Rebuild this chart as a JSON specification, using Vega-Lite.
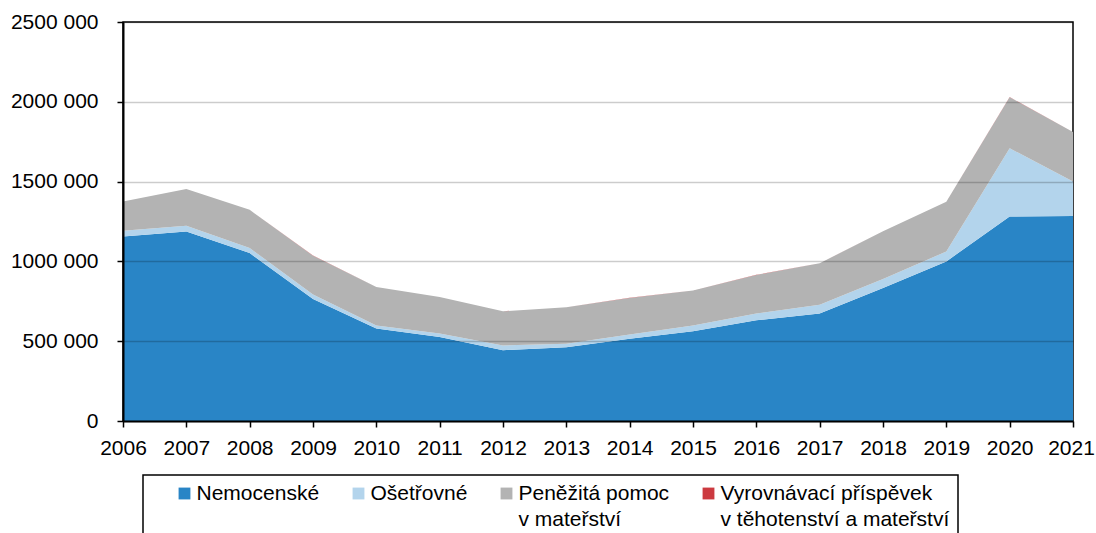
{
  "$schema": "https://vega.github.io/schema/vega-lite/v6.json",
  "autosize": "none",
  "width": 950,
  "height": 399,
  "padding": {"left": 123, "top": 22, "right": 23, "bottom": 112},
  "background": "white",
  "config": {
    "font": "Liberation Sans",
    "view": {"stroke": "black", "strokeWidth": 1.5},
    "axis": {
      "labelFont": "Liberation Sans",
      "labelFontSize": 21,
      "labelColor": "black",
      "tickColor": "black",
      "tickWidth": 1.5,
      "tickSize": 6,
      "domainColor": "black",
      "domainWidth": 2,
      "labelFlush": false,
      "labelOverlap": false,
      "title": null
    }
  },
  "data": {
    "values": [
      {"rok": 2006, "druh": "Nemocenské", "poradi": 1, "hodnota": 1156000},
      {"rok": 2006, "druh": "Ošetřovné", "poradi": 2, "hodnota": 36000},
      {"rok": 2006, "druh": "Peněžitá pomoc v mateřství", "poradi": 3, "hodnota": 183000},
      {"rok": 2006, "druh": "Vyrovnávací příspěvek v těhotenství a mateřství", "poradi": 4, "hodnota": 300},
      {"rok": 2007, "druh": "Nemocenské", "poradi": 1, "hodnota": 1187000},
      {"rok": 2007, "druh": "Ošetřovné", "poradi": 2, "hodnota": 36000},
      {"rok": 2007, "druh": "Peněžitá pomoc v mateřství", "poradi": 3, "hodnota": 231000},
      {"rok": 2007, "druh": "Vyrovnávací příspěvek v těhotenství a mateřství", "poradi": 4, "hodnota": 300},
      {"rok": 2008, "druh": "Nemocenské", "poradi": 1, "hodnota": 1052000},
      {"rok": 2008, "druh": "Ošetřovné", "poradi": 2, "hodnota": 32000},
      {"rok": 2008, "druh": "Peněžitá pomoc v mateřství", "poradi": 3, "hodnota": 239000},
      {"rok": 2008, "druh": "Vyrovnávací příspěvek v těhotenství a mateřství", "poradi": 4, "hodnota": 300},
      {"rok": 2009, "druh": "Nemocenské", "poradi": 1, "hodnota": 765000},
      {"rok": 2009, "druh": "Ošetřovné", "poradi": 2, "hodnota": 27000},
      {"rok": 2009, "druh": "Peněžitá pomoc v mateřství", "poradi": 3, "hodnota": 244000},
      {"rok": 2009, "druh": "Vyrovnávací příspěvek v těhotenství a mateřství", "poradi": 4, "hodnota": 300},
      {"rok": 2010, "druh": "Nemocenské", "poradi": 1, "hodnota": 579000},
      {"rok": 2010, "druh": "Ošetřovné", "poradi": 2, "hodnota": 19000},
      {"rok": 2010, "druh": "Peněžitá pomoc v mateřství", "poradi": 3, "hodnota": 242000},
      {"rok": 2010, "druh": "Vyrovnávací příspěvek v těhotenství a mateřství", "poradi": 4, "hodnota": 300},
      {"rok": 2011, "druh": "Nemocenské", "poradi": 1, "hodnota": 527000},
      {"rok": 2011, "druh": "Ošetřovné", "poradi": 2, "hodnota": 21000},
      {"rok": 2011, "druh": "Peněžitá pomoc v mateřství", "poradi": 3, "hodnota": 229000},
      {"rok": 2011, "druh": "Vyrovnávací příspěvek v těhotenství a mateřství", "poradi": 4, "hodnota": 300},
      {"rok": 2012, "druh": "Nemocenské", "poradi": 1, "hodnota": 444000},
      {"rok": 2012, "druh": "Ošetřovné", "poradi": 2, "hodnota": 29000},
      {"rok": 2012, "druh": "Peněžitá pomoc v mateřství", "poradi": 3, "hodnota": 214000},
      {"rok": 2012, "druh": "Vyrovnávací příspěvek v těhotenství a mateřství", "poradi": 4, "hodnota": 300},
      {"rok": 2013, "druh": "Nemocenské", "poradi": 1, "hodnota": 462000},
      {"rok": 2013, "druh": "Ošetřovné", "poradi": 2, "hodnota": 22000},
      {"rok": 2013, "druh": "Peněžitá pomoc v mateřství", "poradi": 3, "hodnota": 228000},
      {"rok": 2013, "druh": "Vyrovnávací příspěvek v těhotenství a mateřství", "poradi": 4, "hodnota": 1000},
      {"rok": 2014, "druh": "Nemocenské", "poradi": 1, "hodnota": 515000},
      {"rok": 2014, "druh": "Ošetřovné", "poradi": 2, "hodnota": 27000},
      {"rok": 2014, "druh": "Peněžitá pomoc v mateřství", "poradi": 3, "hodnota": 229000},
      {"rok": 2014, "druh": "Vyrovnávací příspěvek v těhotenství a mateřství", "poradi": 4, "hodnota": 1000},
      {"rok": 2015, "druh": "Nemocenské", "poradi": 1, "hodnota": 563000},
      {"rok": 2015, "druh": "Ošetřovné", "poradi": 2, "hodnota": 35000},
      {"rok": 2015, "druh": "Peněžitá pomoc v mateřství", "poradi": 3, "hodnota": 219000},
      {"rok": 2015, "druh": "Vyrovnávací příspěvek v těhotenství a mateřství", "poradi": 4, "hodnota": 1000},
      {"rok": 2016, "druh": "Nemocenské", "poradi": 1, "hodnota": 631000},
      {"rok": 2016, "druh": "Ošetřovné", "poradi": 2, "hodnota": 42000},
      {"rok": 2016, "druh": "Peněžitá pomoc v mateřství", "poradi": 3, "hodnota": 242000},
      {"rok": 2016, "druh": "Vyrovnávací příspěvek v těhotenství a mateřství", "poradi": 4, "hodnota": 1000},
      {"rok": 2017, "druh": "Nemocenské", "poradi": 1, "hodnota": 673000},
      {"rok": 2017, "druh": "Ošetřovné", "poradi": 2, "hodnota": 56000},
      {"rok": 2017, "druh": "Peněžitá pomoc v mateřství", "poradi": 3, "hodnota": 259000},
      {"rok": 2017, "druh": "Vyrovnávací příspěvek v těhotenství a mateřství", "poradi": 4, "hodnota": 300},
      {"rok": 2018, "druh": "Nemocenské", "poradi": 1, "hodnota": 834000},
      {"rok": 2018, "druh": "Ošetřovné", "poradi": 2, "hodnota": 55000},
      {"rok": 2018, "druh": "Peněžitá pomoc v mateřství", "poradi": 3, "hodnota": 300000},
      {"rok": 2018, "druh": "Vyrovnávací příspěvek v těhotenství a mateřství", "poradi": 4, "hodnota": 300},
      {"rok": 2019, "druh": "Nemocenské", "poradi": 1, "hodnota": 1000000},
      {"rok": 2019, "druh": "Ošetřovné", "poradi": 2, "hodnota": 62000},
      {"rok": 2019, "druh": "Peněžitá pomoc v mateřství", "poradi": 3, "hodnota": 311000},
      {"rok": 2019, "druh": "Vyrovnávací příspěvek v těhotenství a mateřství", "poradi": 4, "hodnota": 300},
      {"rok": 2020, "druh": "Nemocenské", "poradi": 1, "hodnota": 1281000},
      {"rok": 2020, "druh": "Ošetřovné", "poradi": 2, "hodnota": 428000},
      {"rok": 2020, "druh": "Peněžitá pomoc v mateřství", "poradi": 3, "hodnota": 320000},
      {"rok": 2020, "druh": "Vyrovnávací příspěvek v těhotenství a mateřství", "poradi": 4, "hodnota": 300},
      {"rok": 2021, "druh": "Nemocenské", "poradi": 1, "hodnota": 1285000},
      {"rok": 2021, "druh": "Ošetřovné", "poradi": 2, "hodnota": 215000},
      {"rok": 2021, "druh": "Peněžitá pomoc v mateřství", "poradi": 3, "hodnota": 310000},
      {"rok": 2021, "druh": "Vyrovnávací příspěvek v těhotenství a mateřství", "poradi": 4, "hodnota": 300}
    ]
  },
  "mark": {"type": "area", "interpolate": "linear", "strokeWidth": 0},
  "encoding": {
    "x": {
      "field": "rok",
      "type": "quantitative",
      "scale": {"domain": [2006, 2021], "nice": false, "zero": false},
      "axis": {
        "values": [2006, 2007, 2008, 2009, 2010, 2011, 2012, 2013, 2014, 2015, 2016, 2017, 2018, 2019, 2020, 2021],
        "format": "d",
        "grid": false,
        "labelPadding": 10,
        "labelOffset": {"condition": {"test": "datum.value == 2021", "value": -2}, "value": 0},
        "zindex": 1
      }
    },
    "y": {
      "field": "hodnota",
      "type": "quantitative",
      "stack": "zero",
      "scale": {"domain": [0, 2500000], "nice": false},
      "axis": {
        "values": [0, 500000, 1000000, 1500000, 2000000, 2500000],
        "labelExpr": "datum.value == 0 ? '0' : format(floor(datum.value / 1000), 'd') + ' 000'",
        "grid": true,
        "gridColor": "black",
        "gridOpacity": 0.2,
        "gridWidth": 1.5,
        "labelPadding": 19,
        "zindex": 1
      }
    },
    "order": {"field": "poradi", "type": "quantitative", "sort": "ascending"},
    "color": {
      "field": "druh",
      "type": "nominal",
      "scale": {
        "domain": ["Nemocenské", "Ošetřovné", "Peněžitá pomoc v mateřství", "Vyrovnávací příspěvek v těhotenství a mateřství"],
        "range": ["#2985c6", "#b3d4ec", "#b3b3b3", "#cc3a40"]
      },
      "legend": {
        "orient": "none",
        "legendX": 20,
        "legendY": 453,
        "direction": "horizontal",
        "columns": 4,
        "columnPadding": 5,
        "title": null,
        "padding": 8,
        "strokeColor": "black",
        "symbolType": "square",
        "symbolSize": 140,
        "symbolStrokeWidth": 0,
        "symbolOpacity": 1,
        "symbolOffset": 23,
        "labelFont": "Liberation Sans",
        "labelFontSize": 21,
        "labelColor": "black",
        "labelLimit": 400,
        "labelOffset": 1.5,
        "labelBaseline": "middle",
        "labelExpr": "datum.label == 'Peněžitá pomoc v mateřství' ? ['Peněžitá pomoc', 'v mateřství'] : datum.label == 'Vyrovnávací příspěvek v těhotenství a mateřství' ? ['Vyrovnávací příspěvek', 'v těhotenství a mateřství'] : [datum.label, '']",
        "encode": {
          "legend": {"update": {"strokeWidth": {"value": 1.5}}},
          "labels": {"update": {"lineHeight": {"value": 26.5}}}
        }
      }
    }
  }
}
